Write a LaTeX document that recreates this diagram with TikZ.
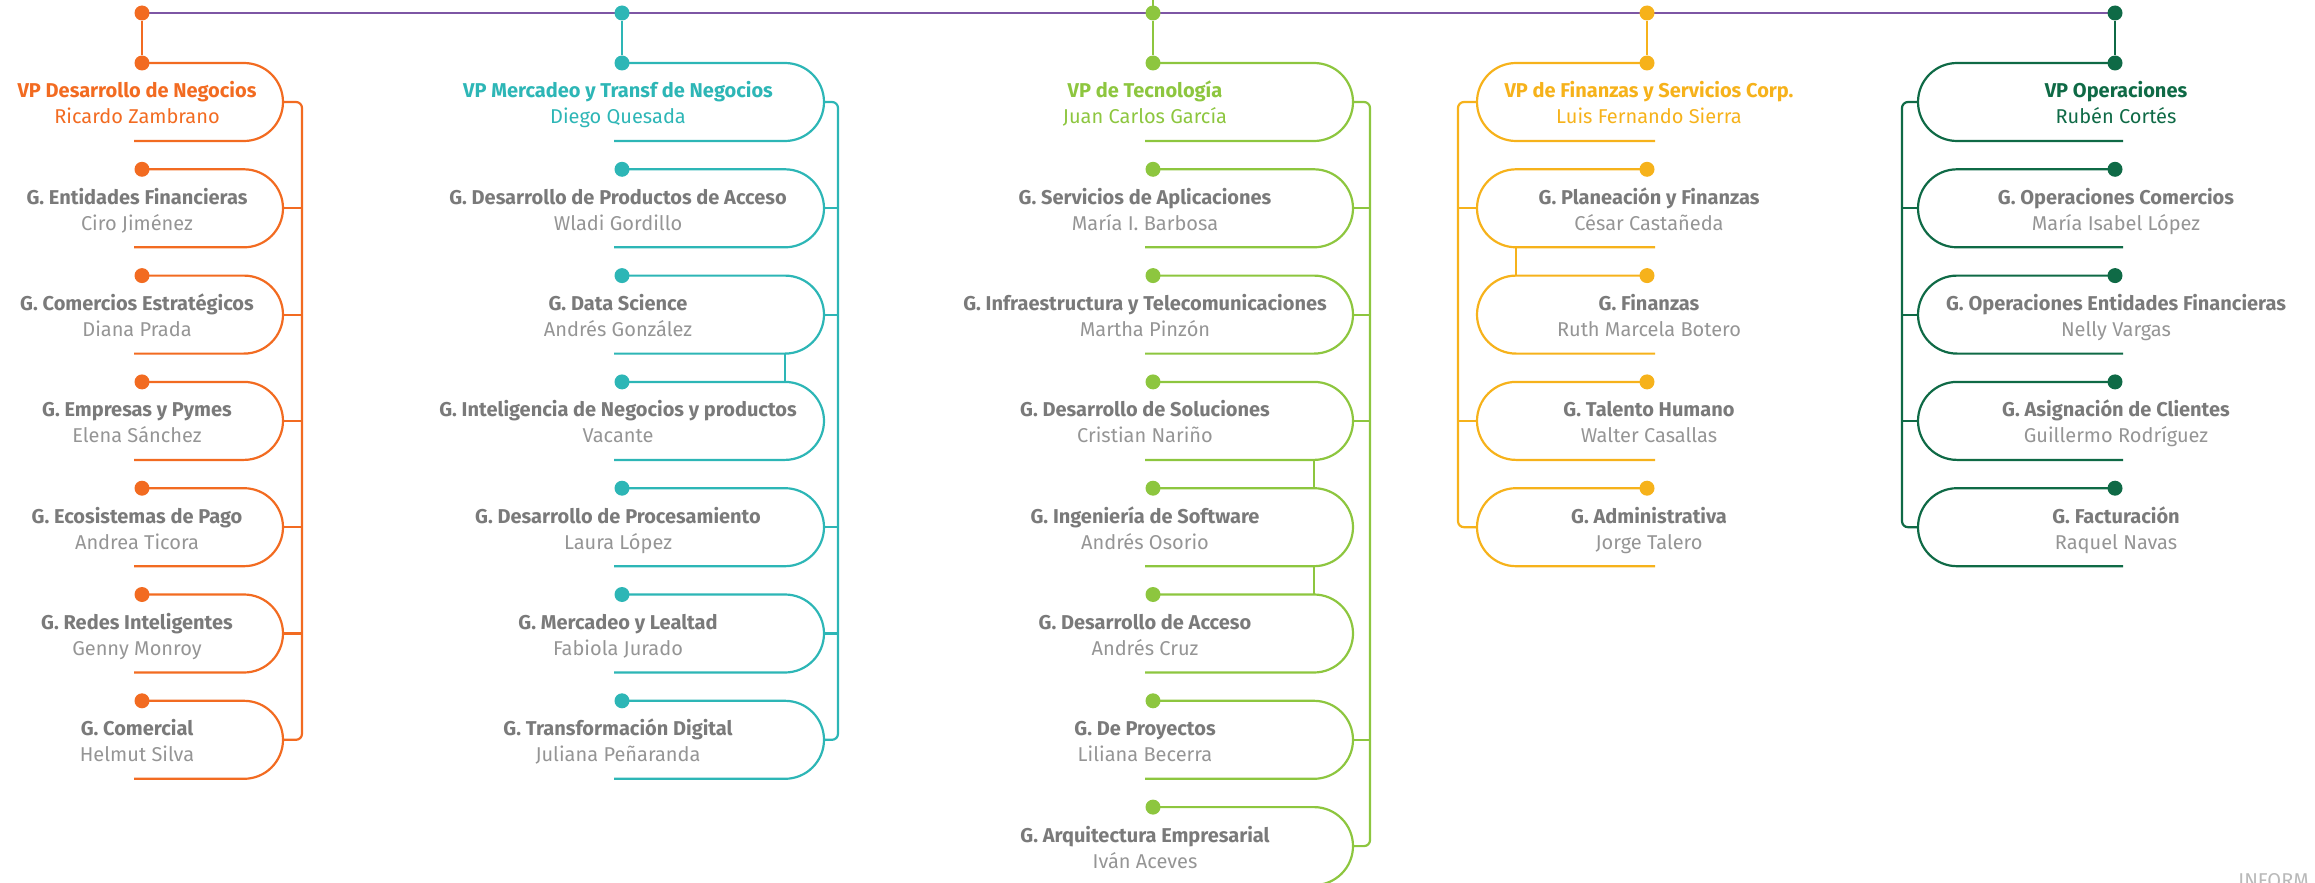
\documentclass[tikz,border=0pt]{standalone}
\usepackage{fontspec}
\setmainfont{Fira Sans}

\definecolor{naranja}{HTML}{F26B21}
\definecolor{turquesa}{HTML}{2DB6B6}
\definecolor{verdeclaro}{HTML}{8DC63F}
\definecolor{amarillo}{HTML}{F6B21B}
\definecolor{verdeosc}{HTML}{0F6A46}
\definecolor{morado}{HTML}{7D56A4}
\definecolor{titulogris}{HTML}{7A7A7A}
\definecolor{nombregris}{HTML}{959595}

\tikzset{
  linea/.style={line width=1.1pt},
  punto/.style={circle, fill, inner sep=0pt, minimum size=7.5pt},
  cargo/.style={font=\bfseries\fontsize{10}{12}\selectfont, text=titulogris, inner sep=0pt, anchor=base},
  persona/.style={font=\fontsize{10}{12}\selectfont, text=nombregris, inner sep=0pt, anchor=base}
}

% #1 nombre, #2 color, #3 x punto, #4 y fila, #5 x arco, #6 x texto, #7 cargo, #8 persona
\newcommand{\unidadD}[8]{%
  \node[punto, #2] (#1) at (#3,#4) {};
  \draw[linea, #2] (#1.center) -- (#5,#4) arc[start angle=-90, end angle=90, radius=39] -- (#3-8,#4+78);
  \coordinate (#1-a) at (#5,#4);
  \coordinate (#1-b) at (#5,#4+78);
  \coordinate (#1-e) at (#5+39,#4+39);
  \node[cargo] (#1-t) at (#6,#4+35) {#7};
  \node[persona] (#1-n) at (#6,#4+61) {#8};
}
\newcommand{\unidadI}[8]{%
  \node[punto, #2] (#1) at (#3,#4) {};
  \draw[linea, #2] (#1.center) -- (#5,#4) arc[start angle=-90, end angle=-270, radius=39] -- (#3+8,#4+78);
  \coordinate (#1-a) at (#5,#4);
  \coordinate (#1-b) at (#5,#4+78);
  \coordinate (#1-e) at (#5-39,#4+39);
  \node[cargo] (#1-t) at (#6,#4+35) {#7};
  \node[persona] (#1-n) at (#6,#4+61) {#8};
}

\begin{document}
\begin{tikzpicture}[x=0.5pt, y=-0.5pt]
 \def\fila{106.3}

 \useasboundingbox (0,0) rectangle (2315,883);
 \clip (0,0) rectangle (2315,883);

 % linea superior
 \coordinate (cima) at (1153,0);
 \draw[linea, morado] (142,13) -- (2115,13);
 \node[punto, naranja] (po) at (142,13) {};
 \node[punto, turquesa] (pt) at (622,13) {};
 \node[punto, verdeclaro] (pv) at (1153,13) {};
 \node[punto, amarillo] (pa) at (1647,13) {};
 \node[punto, verdeosc] (pd) at (2115,13) {};
 \draw[linea, verdeclaro] (pv.center) -- (cima);

 %VP Desarrollo de Negocios
 \unidadD{o0}{naranja}{142}{63}{244}{137}{\textcolor{naranja}{VP Desarrollo de Negocios}}{\textcolor{naranja}{Ricardo Zambrano}}
 \foreach \i/\ger/\nom in {1/{G. Entidades Financieras}/{Ciro Jiménez},
   2/{G. Comercios Estratégicos}/{Diana Prada},
   3/{G. Empresas y Pymes}/{Elena Sánchez},
   4/{G. Ecosistemas de Pago}/{Andrea Ticora},
   5/{G. Redes Inteligentes}/{Genny Monroy},
   6/{G. Comercial}/{Helmut Silva}}
   \unidadD{o\i}{naranja}{142}{63+\fila*\i}{244}{137}{\ger}{\nom};
 \coordinate (bo) at (302,0);
 \draw[linea, naranja] (po) -- (o0);
 \draw[linea, naranja, rounded corners=3pt] (o0-e) -- (o0-e -| bo) -- (o6-e -| bo) -- (o6-e);
 \foreach \i in {1,...,5}
   \draw[linea, naranja] (o\i-e) -- (o\i-e -| bo);

 %VP Mercadeo
 \unidadD{t0}{turquesa}{622}{63}{785}{618}{\textcolor{turquesa}{VP Mercadeo y Transf de Negocios}}{\textcolor{turquesa}{Diego Quesada}}
 \foreach \i/\ger/\nom in {1/{G. Desarrollo de Productos de Acceso}/{Wladi Gordillo},
   2/{G. Data Science}/{Andrés González},
   3/{G. Inteligencia de Negocios y productos}/{Vacante},
   4/{G. Desarrollo de Procesamiento}/{Laura López},
   5/{G. Mercadeo y Lealtad}/{Fabiola Jurado},
   6/{G. Transformación Digital}/{Juliana Peñaranda}}
   \unidadD{t\i}{turquesa}{622}{63+\fila*\i}{785}{618}{\ger}{\nom};
 \coordinate (bt) at (838,0);
 \draw[linea, turquesa] (pt) -- (t0);
 \draw[linea, turquesa, rounded corners=3pt] (t0-e) -- (t0-e -| bt) -- (t6-e -| bt) -- (t6-e);
 \foreach \i in {1,2,4,5}
   \draw[linea, turquesa] (t\i-e) -- (t\i-e -| bt);
 \draw[linea, turquesa] (t2-b) -- (t3-a);

 %VP de Tecnologia
 \unidadD{v0}{verdeclaro}{1153}{63}{1314}{1145}{\textcolor{verdeclaro}{VP de Tecnología}}{\textcolor{verdeclaro}{Juan Carlos García}}
 \foreach \i/\ger/\nom in {1/{G. Servicios de Aplicaciones}/{María I. Barbosa},
   2/{G. Infraestructura y Telecomunicaciones}/{Martha Pinzón},
   3/{G. Desarrollo de Soluciones}/{Cristian Nariño},
   4/{G. Ingeniería de Software}/{Andrés Osorio},
   5/{G. Desarrollo de Acceso}/{Andrés Cruz},
   6/{G. De Proyectos}/{Liliana Becerra},
   7/{G. Arquitectura Empresarial}/{Iván Aceves}}
   \unidadD{v\i}{verdeclaro}{1153}{63+\fila*\i}{1314}{1145}{\ger}{\nom};
 \coordinate (bv) at (1370,0);
 \draw[linea, verdeclaro] (pv) -- (v0);
 \draw[linea, verdeclaro, rounded corners=3pt] (v0-e) -- (v0-e -| bv) -- (v7-e -| bv) -- (v7-e);
 \foreach \i in {1,2,3,6}
   \draw[linea, verdeclaro] (v\i-e) -- (v\i-e -| bv);
 \draw[linea, verdeclaro] (v3-b) -- (v4-a);
 \draw[linea, verdeclaro] (v4-b) -- (v5-a);

 %VP de Finanzas
 \unidadI{a0}{amarillo}{1647}{63}{1516}{1649}{\textcolor{amarillo}{VP de Finanzas y Servicios Corp.}}{\textcolor{amarillo}{Luis Fernando Sierra}}
 \foreach \i/\ger/\nom in {1/{G. Planeación y Finanzas}/{César Castañeda},
   2/{G. Finanzas}/{Ruth Marcela Botero},
   3/{G. Talento Humano}/{Walter Casallas},
   4/{G. Administrativa}/{Jorge Talero}}
   \unidadI{a\i}{amarillo}{1647}{63+\fila*\i}{1516}{1649}{\ger}{\nom};
 \coordinate (ba) at (1458,0);
 \draw[linea, amarillo] (pa) -- (a0);
 \draw[linea, amarillo, rounded corners=3pt] (a0-e) -- (a0-e -| ba) -- (a4-e -| ba) -- (a4-e);
 \foreach \i in {1,3}
   \draw[linea, amarillo] (a\i-e) -- (a\i-e -| ba);
 \draw[linea, amarillo] (a1-b) -- (a2-a);

 %VP Operaciones
 \unidadI{d0}{verdeosc}{2115}{63}{1957}{2116}{\textcolor{verdeosc}{VP Operaciones}}{\textcolor{verdeosc}{Rubén Cortés}}
 \foreach \i/\ger/\nom in {1/{G. Operaciones Comercios}/{María Isabel López},
   2/{G. Operaciones Entidades Financieras}/{Nelly Vargas},
   3/{G. Asignación de Clientes}/{Guillermo Rodríguez},
   4/{G. Facturación}/{Raquel Navas}}
   \unidadI{d\i}{verdeosc}{2115}{63+\fila*\i}{1957}{2116}{\ger}{\nom};
 \coordinate (bd) at (1902,0);
 \draw[linea, verdeosc] (pd) -- (d0);
 \draw[linea, verdeosc, rounded corners=3pt] (d0-e) -- (d0-e -| bd) -- (d4-e -| bd) -- (d4-e);
 \foreach \i in {1,2,3}
   \draw[linea, verdeosc] (d\i-e) -- (d\i-e -| bd);

 \node[persona, anchor=base west, text=gray!55] (pie) at (2238,887) {INFORM};
\end{tikzpicture}
\end{document}
